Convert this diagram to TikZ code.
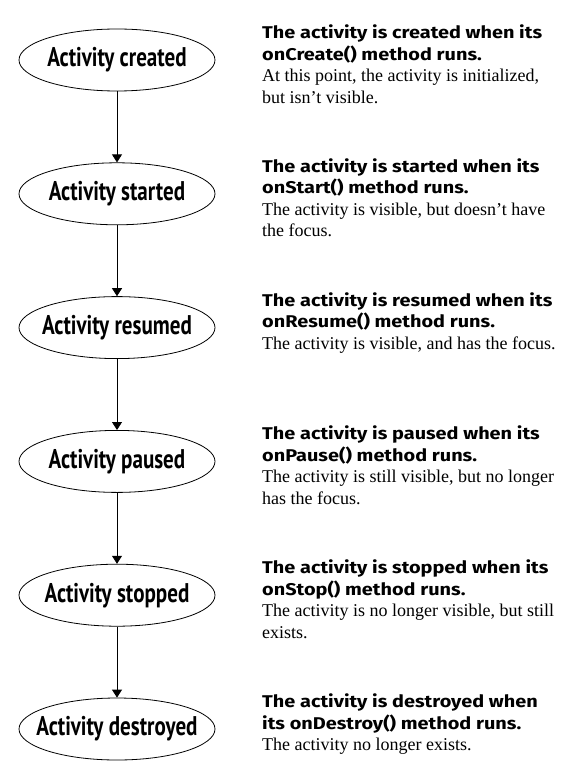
\documentclass[tikz,border=0pt]{standalone}
\usepackage{fontspec}
\setmainfont{Liberation Serif}
\newfontfamily\statefont[FakeStretch=0.78]{PT Sans}
\newfontfamily\headfont[FakeStretch=1.17]{Fira Sans}
\usetikzlibrary{positioning,arrows.meta,shapes.geometric}

\tikzset{
  state/.style={draw, ellipse, line width=0.8pt, minimum width=196pt, minimum height=62pt,
    inner xsep=-12pt, inner ysep=0pt, font=\statefont\bfseries\fontsize{27}{29}\selectfont},
  desc/.style={anchor=north west, align=left, inner sep=0pt,
    font=\fontsize{18}{21.5}\selectfont},
  flow/.style={-{Triangle[length=8pt,width=10pt]}, thick}
}
\newcommand{\headline}[1]{{\headfont\bfseries\fontsize{17}{20}\selectfont #1}}

\begin{document}
\begin{tikzpicture}[x=1pt, y=1pt, node distance=71pt]
    \useasboundingbox (0,0) rectangle (577,-778);
    \coordinate (col) at (262,0);

    % the states
    \node [state] (created) at (117,-60) {Activity created};
    \node [state, below=of created] (started) {Activity started};
    \node [state, below=of started] (resumed) {Activity resumed};
    \node [state, below=of resumed] (paused) {Activity paused};
    \node [state, below=of paused] (stopped) {Activity stopped};
    \node [state, below=of stopped] (destroyed) {Activity destroyed};

    \foreach \from/\to in {created/started, started/resumed, resumed/paused,
                           paused/stopped, stopped/destroyed}
        \draw [flow] (\from) -- (\to);

    % the texts
    \node [desc] (created-text) at ([yshift=4pt]created.north -| col)
        {\headline{The activity is created when its}\\
         \headline{onCreate() method runs.}\\
         At this point, the activity is initialized,\\
         but isn’t visible.};
    \node [desc] (started-text) at ([yshift=4pt]started.north -| col)
        {\headline{The activity is started when its}\\
         \headline{onStart() method runs.}\\
         The activity is visible, but doesn’t have\\
         the focus.};
    \node [desc] (resumed-text) at ([yshift=4pt]resumed.north -| col)
        {\headline{The activity is resumed when its}\\
         \headline{onResume() method runs.}\\
         The activity is visible, and has the focus.};
    \node [desc] (paused-text) at ([yshift=4pt]paused.north -| col)
        {\headline{The activity is paused when its}\\
         \headline{onPause() method runs.}\\
         The activity is still visible, but no longer\\
         has the focus.};
    \node [desc] (stopped-text) at ([yshift=4pt]stopped.north -| col)
        {\headline{The activity is stopped when its}\\
         \headline{onStop() method runs.}\\
         The activity is no longer visible, but still\\
         exists.};
    \node [desc] (destroyed-text) at ([yshift=4pt]destroyed.north -| col)
        {\headline{The activity is destroyed when}\\
         \headline{its onDestroy() method runs.}\\
         The activity no longer exists.};
\end{tikzpicture}
\end{document}
